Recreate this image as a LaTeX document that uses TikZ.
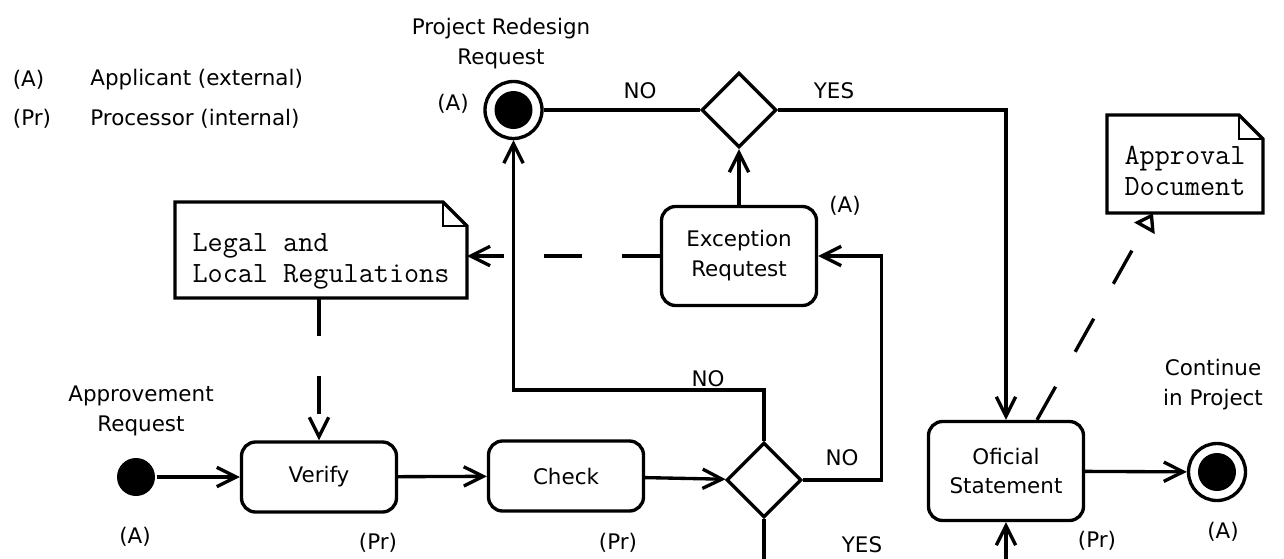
\documentclass[tikz,border=0pt]{standalone}
\usepackage{fontspec}
\setmainfont{DejaVu Sans}
\usetikzlibrary{positioning,arrows.meta,shapes.geometric}

\begin{document}
\begin{tikzpicture}[
  font=\fontsize{12.2}{17}\selectfont,
  line width=1.9pt,
  action/.style={draw, rounded corners=8pt, align=center, minimum width=3.1cm, minimum height=1.4cm},
  decision/.style={draw, diamond, inner sep=0pt, minimum width=1.5cm, minimum height=1.5cm},
  initial/.style={circle, fill=black, inner sep=0pt, minimum size=0.76cm},
  final/.style={circle, draw, inner sep=0pt, minimum size=1.14cm,
    path picture={\fill (path picture bounding box.center) circle (0.38cm);}},
  note/.style={align=left, outer sep=0pt, font=\fontsize{16.7}{17.6}\selectfont\ttfamily},
  lbl/.style={inner sep=1pt, align=center},
  arrow/.style={-{Straight Barb[length=11pt,width=11pt]}},
  dep/.style={arrow, dash pattern=on 0.76cm off 0.8cm}
]
\useasboundingbox (0,0) rectangle (25.68,-11.16);

% legend
\node[lbl] (legA) at (0.57,-1.6) {(A)};
\node[lbl, anchor=west] (legAtxt) at (1.74,-1.6) {Applicant (external)};
\node[lbl] (legPr) at (0.64,-2.38) {(Pr)};
\node[lbl, anchor=west] (legPrtxt) at (1.74,-2.38) {Processor (internal)};

% main flow
\node[initial] (start) at (2.72,-9.54) {};
\node[action] (verify) at (6.38,-9.54) {Verify};
\node[action] (check) at (11.32,-9.52) {Check};
\node[decision] (dec2) at (15.28,-9.6) {};
\node[action, minimum height=1.98cm] (official) at (20.12,-9.42) {Oficial\\Statement};
\node[final] (done) at (24.34,-9.44) {};

% upper part
\node[final] (redesign) at (10.27,-2.2) {};
\node[decision] (dec1) at (14.78,-2.2) {};
\node[action, minimum height=1.98cm] (except) at (14.78,-5.12) {Exception\\Requtest};
\node[note, minimum width=5.84cm, minimum height=1.92cm] (legal) at (6.42,-5.0) {\rule{0pt}{23.5pt}Legal and\\Local Regulations};
\node[note, minimum width=3.12cm, minimum height=1.96cm] (approval) at (23.7,-3.28) {\rule{0pt}{18.5pt}Approval\\Document};

\foreach \n in {legal,approval}{
  \draw (\n.north west) -- ([xshift=-0.48cm]\n.north east) -- ([yshift=-0.48cm]\n.north east)
    -- (\n.south east) -- (\n.south west) -- cycle;
  \draw[line width=0.6pt] ([xshift=-0.48cm]\n.north east) |- ([yshift=-0.48cm]\n.north east);
}

% labels
\node[lbl] (startlbl) at (2.82,-8.22) {Approvement\\Request};
\node[lbl] (startA) at (2.7,-10.74) {(A)};
\node[lbl] (verifyPr) at (7.56,-10.86) {(Pr)};
\node[lbl] (checkPr) at (12.36,-10.86) {(Pr)};
\node[lbl] (redesignlbl) at (10.02,-0.88) {Project Redesign\\Request};
\node[lbl] (redesignA) at (9.06,-2.08) {(A)};
\node[lbl] (exceptA) at (16.9,-4.12) {(A)};
\node[lbl] (no1) at (12.8,-1.81) {NO};
\node[lbl] (yes1) at (16.68,-1.81) {YES};
\node[lbl] (no2) at (14.16,-7.57) {NO};
\node[lbl] (no3) at (16.84,-9.16) {NO};
\node[lbl] (yes2) at (17.24,-10.9) {YES};
\node[lbl] (officialPr) at (21.94,-10.82) {(Pr)};
\node[lbl] (donelbl) at (24.26,-7.7) {Continue\\in Project};
\node[lbl] (doneA) at (24.46,-10.64) {(A)};

\coordinate (yesout) at (15.28,-11.3);
\coordinate (offin) at (20.12,-11.3);

% connectors
\draw[arrow] (start) -- (verify);
\draw[arrow] (verify) -- (check);
\draw[arrow] (check) -- (dec2);
\draw[arrow] (dec2.north) -- ++(0,1.02) -| (redesign.south);
\draw[arrow] (dec2.east) -- ++(1.56,0) |- (except.east);
\draw[arrow] (except) -- (dec1);
\draw (redesign) -- (dec1);
\draw[arrow] (dec1.east) -| (official.north);
\draw[arrow] (official) -- (done);
\draw (dec2.south) -- (yesout);
\draw[arrow] (offin) -- (official.south);
\draw[dep] (except.west) -- (legal.east |- except.west);
\draw[dep] (legal.south -| verify.north) -- (verify.north);
\draw[dep, -{Triangle[open,length=10pt,width=13pt]}] ([xshift=0.62cm]official.north) -- ([xshift=-0.64cm]approval.south);
\end{tikzpicture}
\end{document}
